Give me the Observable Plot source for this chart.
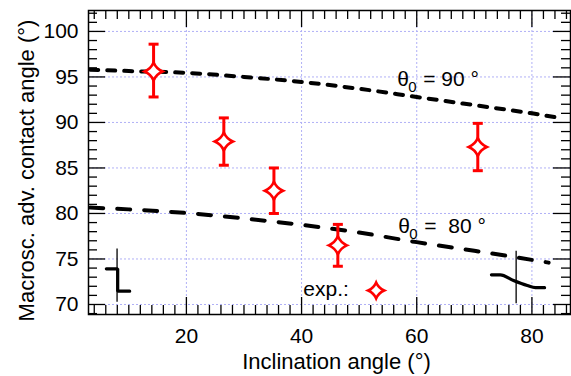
<!DOCTYPE html>
<html>
<head>
<meta charset="utf-8">
<script src="https://cdn.jsdelivr.net/npm/d3@7"></script>
<script src="https://cdn.jsdelivr.net/npm/@observablehq/plot@0.6"></script>
<style>
  html, body { margin: 0; padding: 0; background: #fff; }
  svg text { white-space: pre; }
</style>
</head>
<body>
<div id="chart"></div>
<script>
// Experimental advancing contact angles vs. inclination angle
const expIncl  = [14.3, 26.5, 35.2, 46.3, 70.6];
const expAngle = [95.6, 87.9, 82.5, 76.5, 87.3];
const expLow   = [92.8, 85.3, 80.0, 74.2, 84.7];
const expHigh  = [98.6, 90.5, 85.0, 78.8, 89.9];

// Model curves for two static contact angles
const model90X = [3.3, 10, 20, 30, 40, 50, 60, 70, 80, 85.2];
const model90Y = [95.8, 95.65, 95.45, 95.0, 94.45, 93.7, 92.8, 91.9, 91.0, 90.45];
const model80X = [3.3, 10, 20, 30, 40, 50, 60, 70, 80, 82.9];
const model80Y = [80.65, 80.45, 80.05, 79.45, 78.75, 77.9, 76.85, 75.9, 74.9, 74.6];

// Cursor traces near the bottom of the frame
const cursorLeftX  = [6.1, 8.07, 8.07, 10.15];
const cursorLeftY  = [73.92, 73.92, 71.46, 71.46];
const cursorRightX = [72.97, 74.5, 76.8, 79.2, 80.6, 82.2];
const cursorRightY = [73.26, 73.26, 72.64, 72.09, 71.85, 71.85];
const cursorBarX   = [7.96, 77.26];
const cursorBarTop = [76.1, 75.86];
const cursorBarBot = [70.25, 70.07];

// Annotation anchors
const curveLabelX = [56.6, 56.8];
const curveLabelY = [93.96, 77.83];
const curveLabelRest = ["= 90 °", "=  80 °"];
const legendText = "exp.:";
const legendTextPos = [40.3, 70.88];
const legendMarkPos = [52.95, 71.54];

// Ticks
const xMajor = [20, 40, 60, 80];
const xMinor = d3.range(4, 87, 2).filter(v => v % 20 !== 0);
const yMajor = [70, 75, 80, 85, 90, 95, 100];
const yMinor = d3.range(69, 103, 1).filter(v => v % 5 !== 0);

const xLabel = "Inclination angle (°)";
const yLabel = "Macrosc. adv. contact angle (°)";

const expData = expIncl.map((x, i) => ({x, y: expAngle[i], lo: expLow[i], hi: expHigh[i]}));
const m90 = model90X.map((x, i) => ({x, y: model90Y[i]}));
const m80 = model80X.map((x, i) => ({x, y: model80Y[i]}));
const curL = cursorLeftX.map((x, i) => ({x, y: cursorLeftY[i]}));
const curR = cursorRightX.map((x, i) => ({x, y: cursorRightY[i]}));
const bars = cursorBarX.map((x, i) => ({x, y1: cursorBarBot[i], y2: cursorBarTop[i]}));
const labels = curveLabelX.map((x, i) => ({x, y: curveLabelY[i], rest: curveLabelRest[i]}));

// Four-pointed star with concave sides
const star = {
  draw(context, size) {
    const r = Math.sqrt(size / Math.PI);
    const c = 0.3 * r;
    context.moveTo(0, -r);
    context.quadraticCurveTo(c, -c, r, 0);
    context.quadraticCurveTo(c, c, 0, r);
    context.quadraticCurveTo(-c, c, -r, 0);
    context.quadraticCurveTo(-c, -c, 0, -r);
    context.closePath();
  }
};
// Horizontal cap for error bars
const cap = {
  draw(context, size) {
    const r = Math.sqrt(size / Math.PI);
    context.moveTo(-r, 0);
    context.lineTo(r, 0);
  }
};

const W = 571, H = 376;
const mL = 88, mR = 1, mT = 10, mB = 62;
const pw = W - mL - mR, ph = H - mT - mB;
const red = "#ff0000";
const gridColor = "#b0b0f6";

const chart = Plot.plot({
  width: W,
  height: H,
  marginLeft: mL,
  marginRight: mR,
  marginTop: mT,
  marginBottom: mB,
  style: {fontFamily: "'Liberation Sans', Arial, sans-serif", fontSize: "21px", background: "#fff", color: "#000"},
  x: {domain: [3, 86.7]},
  y: {domain: [68.9, 102.3]},
  marks: [
    Plot.gridX(xMajor, {stroke: gridColor, strokeOpacity: 1, strokeWidth: 1, strokeDasharray: "2,2"}),
    Plot.gridY(yMajor, {stroke: gridColor, strokeOpacity: 1, strokeWidth: 1, strokeDasharray: "2,2"}),

    // inward ticks on all four sides
    Plot.ruleX(xMinor, {insetTop: ph - 9, stroke: "#000", strokeWidth: 1.3}),
    Plot.ruleX(xMinor, {insetBottom: ph - 9, stroke: "#000", strokeWidth: 1.3}),
    Plot.ruleX(xMajor, {insetTop: ph - 17, stroke: "#000", strokeWidth: 1.3}),
    Plot.ruleX(xMajor, {insetBottom: ph - 17, stroke: "#000", strokeWidth: 1.3}),
    Plot.ruleY(yMinor, {insetRight: pw - 9, stroke: "#000", strokeWidth: 1.3}),
    Plot.ruleY(yMinor, {insetLeft: pw - 9, stroke: "#000", strokeWidth: 1.3}),
    Plot.ruleY(yMajor, {insetRight: pw - 17, stroke: "#000", strokeWidth: 1.3}),
    Plot.ruleY(yMajor, {insetLeft: pw - 17, stroke: "#000", strokeWidth: 1.3}),

    Plot.axisX({ticks: xMajor, tickSize: 0, tickPadding: 14, label: null, fontSize: 21}),
    Plot.axisY({ticks: yMajor, tickSize: 0, tickPadding: 10, label: null, fontSize: 21}),

    // model curves
    Plot.line(m90, {x: "x", y: "y", stroke: "#000", strokeWidth: 4, strokeDasharray: "8,9", curve: "monotone-x"}),
    Plot.line(m80, {x: "x", y: "y", stroke: "#000", strokeWidth: 4, strokeDasharray: "13,14", curve: "monotone-x"}),

    // cursor traces
    Plot.ruleX(bars, {x: "x", y1: "y1", y2: "y2", stroke: "#000", strokeWidth: 1.3}),
    Plot.line(curL, {x: "x", y: "y", stroke: "#000", strokeWidth: 3.2, strokeLinejoin: "miter"}),
    Plot.line(curR, {x: "x", y: "y", stroke: "#000", strokeWidth: 3.2, curve: "monotone-x"}),

    // experimental data with error bars
    Plot.ruleX(expData, {x: "x", y1: "lo", y2: "hi", stroke: red, strokeWidth: 3}),
    Plot.dot(expData, {x: "x", y: "lo", symbol: cap, r: 5, stroke: red, strokeWidth: 3}),
    Plot.dot(expData, {x: "x", y: "hi", symbol: cap, r: 5, stroke: red, strokeWidth: 3}),
    Plot.dot(expData, {x: "x", y: "y", symbol: star, r: 9, stroke: red, fill: "#fff", strokeWidth: 2.6}),

    // curve labels θ0 = ...
    Plot.text(labels, {x: "x", y: "y", text: () => "θ", textAnchor: "start", lineAnchor: "bottom", fontSize: 21, fill: "#000"}),
    Plot.text(labels, {x: "x", y: "y", text: () => "0", textAnchor: "start", lineAnchor: "bottom", fontSize: 15, dx: 11, dy: 6, fill: "#000"}),
    Plot.text(labels, {x: "x", y: "y", text: "rest", textAnchor: "start", lineAnchor: "bottom", fontSize: 21, dx: 26, fill: "#000"}),

    // legend entry
    Plot.text([legendText], {x: () => legendTextPos[0], y: () => legendTextPos[1], text: d => d, textAnchor: "start", lineAnchor: "bottom", fontSize: 21, fill: "#000"}),
    Plot.dot([legendMarkPos], {x: d => d[0], y: d => d[1], symbol: star, r: 8, stroke: red, fill: "#fff", strokeWidth: 2.6}),

    // axis titles
    Plot.text([xLabel], {frameAnchor: "bottom", text: d => d, dx: 7, dy: 54, textAnchor: "middle", lineAnchor: "bottom", fontSize: 22, fill: "#000"}),
    Plot.text([yLabel], {frameAnchor: "left", text: d => d, rotate: -90, dx: -55, dy: 8, textAnchor: "middle", lineAnchor: "bottom", fontSize: 22, fill: "#000"}),

    Plot.frame({stroke: "#000", strokeWidth: 1.5})
  ]
});

document.getElementById("chart").appendChild(chart);
</script>
</body>
</html>
